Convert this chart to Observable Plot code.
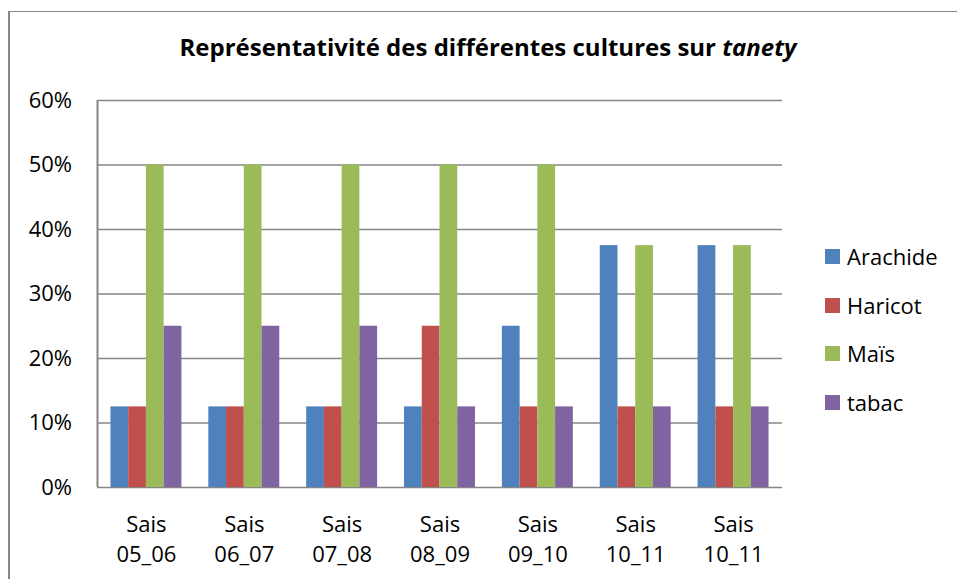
<!DOCTYPE html>
<html><head><meta charset="utf-8">
<script src="https://cdn.jsdelivr.net/npm/d3@7"></script>
<script src="https://cdn.jsdelivr.net/npm/@observablehq/plot@0.6"></script>
<style>
body{margin:0;background:#fff;}
#wrap{position:relative;width:957px;height:579px;overflow:hidden;font-family:"Open Sans",sans-serif;background:#fff;}
#border{position:absolute;left:8px;top:11px;right:-10px;bottom:-10px;border-left:2px solid #868686;border-top:1.5px solid #868686;}
#title{position:absolute;left:0;width:976px;top:36px;text-align:center;font-weight:bold;font-size:24px;line-height:22px;color:#000;white-space:nowrap;}
.layer{position:absolute;left:0;top:0;}
.lg{position:absolute;left:825px;height:22px;display:flex;align-items:center;font-size:22px;line-height:22px;color:#000;}
.lg span.sw{display:inline-block;width:15px;height:15px;margin-right:7px;}
</style></head>
<body><div id="wrap"><div id="border"></div><div id="title">Représentativité des différentes cultures sur <i>tanety</i></div></div>
<script>
const categories = ["Sais 05_06","Sais 06_07","Sais 07_08","Sais 08_09","Sais 09_10","Sais 10_11","Sais 10_11"];
const series = ["Arachide","Haricot","Maïs","tabac"];
const colors = ["#4F81BD","#C0504D","#9BBB59","#8064A2"];
const arachide = [0.125,0.125,0.125,0.125,0.25,0.375,0.375];
const haricot  = [0.125,0.125,0.125,0.25,0.125,0.125,0.125];
const mais     = [0.5,0.5,0.5,0.5,0.5,0.375,0.375];
const tabac    = [0.25,0.25,0.25,0.125,0.125,0.125,0.125];
const yTicks = [0,0.1,0.2,0.3,0.4,0.5,0.6];

const values = [arachide, haricot, mais, tabac];
const data = categories.flatMap((c,i)=>series.map((s,j)=>({cat:i, series:s, value:values[j][i]})));
const labels = categories.map((c,i)=>({cat:i, label:c.replace(" ","\n")}));

const common = {width:957, height:579, marginLeft:97, marginRight:175, marginTop:100, marginBottom:92};
const font = {fontFamily:'"Open Sans",sans-serif', fontSize:"22px", color:"#000", background:"transparent"};

const back = Plot.plot({...common, style:font,
  x:{domain:[0,1], axis:null},
  y:{domain:[0,0.6], ticks:yTicks, tickFormat:d=>Math.round(d*100)+"%", tickSize:0, tickPadding:25.5, label:null},
  marks:[
    Plot.ruleY(yTicks,{stroke:"#868686", strokeWidth:1.5}),
    Plot.ruleX([0],{stroke:"#868686", strokeWidth:2})
  ]});

const front = Plot.plot({...common, style:font,
  fx:{domain:d3.range(categories.length), paddingInner:0.275, paddingOuter:0.1375, round:false, axis:null},
  x:{domain:series, padding:0, round:false, axis:null},
  y:{domain:[0,0.6], axis:null},
  color:{domain:series, range:colors},
  marks:[
    Plot.barY(data,{fx:"cat", x:"series", y:"value", fill:"series"}),
    Plot.text(labels,{fx:"cat", text:"label", frameAnchor:"bottom", lineAnchor:"top", dy:23, lineHeight:1.364, fontSize:22, fill:"#000"})
  ]});

const wrap = document.getElementById("wrap");
back.classList.add("layer"); front.classList.add("layer");
wrap.appendChild(back); wrap.appendChild(front);

const legendY = [256,305,353,402];
series.forEach((s,j)=>{
  const d = document.createElement("div");
  d.className = "lg";
  d.style.top = (legendY[j]-11)+"px";
  d.innerHTML = `<span class="sw" style="background:${colors[j]}"></span>${s}`;
  wrap.appendChild(d);
});
</script>
</body></html>
